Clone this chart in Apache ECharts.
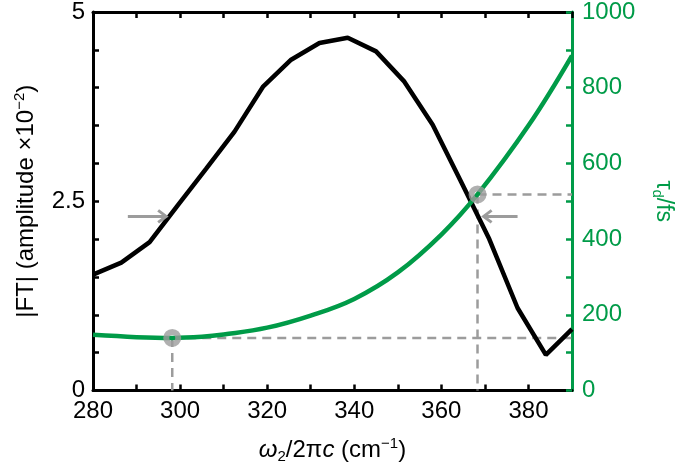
<!DOCTYPE html>
<html>
<head>
<meta charset="utf-8">
<script src="https://cdn.jsdelivr.net/npm/echarts@6/dist/echarts.min.js"></script>
<style>html,body{margin:0;padding:0;background:#fff}#c{width:685px;height:469px}</style>
</head>
<body>
<div id="c"></div>
<script>
// |FT| amplitude (left axis, x10^-2)
var ftX = [280, 286.5, 293, 299.5, 306, 312.5, 319, 325.5, 332, 338.5, 345, 351.5, 358, 364.5, 371, 377.5, 384, 390];
var ftY = [1.53, 1.69, 1.96, 2.45, 2.93, 3.42, 4.01, 4.37, 4.59, 4.66, 4.48, 4.08, 3.51, 2.76, 2.00, 1.09, 0.47, 0.81];
// tau_d (right axis, fs)
var tauX = [280, 290, 298.2, 305, 310, 320, 330, 340, 350, 360, 368.3, 380, 390];
var tauY = [147, 141, 139, 142, 148, 166, 198, 242, 312, 412, 518, 700, 885];
// marked points (right axis)
var markX = [298.2, 368.3];
var markY = [139, 518];
// half-maximum arrows: [tail, tip, y]
var arrows = [[288.0, 296.8, 2.30], [377.5, 369.7, 2.30]];

var GREEN = '#009B48';
var GREY = '#9c9c9c';
var FONT = 'Liberation Sans, Arial, Helvetica, sans-serif';

var ftData = ftX.map(function (x, i) { return [x, ftY[i]]; });
var tauData = tauX.map(function (x, i) { return [x, tauY[i]]; });
var markData = markX.map(function (x, i) { return [x, markY[i]]; });

function dashSeries(pts) {
  return {
    type: 'line', xAxisIndex: 0, yAxisIndex: 1, data: pts, symbol: 'none', silent: true,
    lineStyle: { color: GREY, width: 2.5, type: [9, 6] }, z: 3, animation: false
  };
}
var dashes = [];
markData.forEach(function (p) {
  dashes.push(dashSeries([[p[0], p[1]], [390, p[1]]]));
  dashes.push(dashSeries([[p[0], p[1]], [p[0], 0]]));
});

var chart = echarts.init(document.getElementById('c'), null, { renderer: 'canvas' });
chart.setOption({
  animation: false,
  backgroundColor: '#fff',
  textStyle: { fontFamily: FONT },
  grid: { left: 93, right: 113, top: 10, bottom: 77, containLabel: false },
  xAxis: [{
    type: 'value', position: 'bottom', min: 280, max: 390, interval: 10,
    axisLine: { show: true, onZero: false, lineStyle: { color: '#000', width: 3 } },
    axisTick: { show: true, inside: true, length: 6, lineStyle: { color: '#000', width: 2.5 } },
    splitLine: { show: false },
    axisLabel: {
      color: '#000', fontSize: 24, fontFamily: FONT, margin: 9,
      showMaxLabel: false,
      formatter: function (v) { return (Math.round(v) % 20 === 0) ? String(Math.round(v)) : ''; }
    },
    name: '{i|ω}{sub|2}/2π{i|c} (cm{sup|−1})',
    nameLocation: 'middle', nameGap: 46,
    nameTextStyle: {
      color: '#000', fontSize: 24, fontFamily: FONT,
      rich: {
        i: { fontStyle: 'italic', fontSize: 24, fontFamily: FONT, color: '#000' },
        sub: { fontSize: 15, fontFamily: FONT, color: '#000', padding: [12, 0, 0, 0] },
        sup: { fontSize: 15, fontFamily: FONT, color: '#000', padding: [0, 0, 13, 0] }
      }
    }
  }, {
    type: 'value', position: 'top', min: 280, max: 390, interval: 10,
    axisLine: { show: true, onZero: false, lineStyle: { color: '#000', width: 3 } },
    axisTick: { show: true, inside: true, length: 6, lineStyle: { color: '#000', width: 2.5 } },
    axisLabel: { show: false }, splitLine: { show: false }
  }],
  yAxis: [{
    type: 'value', position: 'left', min: 0, max: 5, interval: 0.5,
    axisLine: { show: true, onZero: false, lineStyle: { color: '#000', width: 3 } },
    axisTick: { show: true, inside: true, length: 6, lineStyle: { color: '#000', width: 2.5 } },
    splitLine: { show: false },
    axisLabel: {
      color: '#000', fontSize: 24, fontFamily: FONT, margin: 8,
      formatter: function (v) {
        var k = v / 2.5;
        return Math.abs(k - Math.round(k)) < 1e-6 ? String(v) : '';
      }
    },
    name: '|FT| (amplitude ×10{sup|−2})',
    nameLocation: 'middle', nameGap: 53, nameRotate: 90,
    nameTextStyle: {
      color: '#000', fontSize: 24, fontFamily: FONT,
      rich: { sup: { fontSize: 15, fontFamily: FONT, color: '#000', padding: [0, 0, 13, 0] } }
    }
  }, {
    type: 'value', position: 'right', min: 0, max: 1000, interval: 100,
    axisLine: { show: true, onZero: false, lineStyle: { color: GREEN, width: 3 } },
    axisTick: { show: true, inside: true, length: 6, lineStyle: { color: GREEN, width: 2.5 } },
    splitLine: { show: false },
    axisLabel: {
      color: GREEN, fontSize: 24, fontFamily: FONT, margin: 10,
      formatter: function (v) { return (Math.round(v) % 200 === 0) ? String(Math.round(v)) : ''; }
    },
    name: 'τ{sub|d}/fs',
    nameLocation: 'middle', nameGap: 78, nameRotate: -90,
    nameTextStyle: {
      color: GREEN, fontSize: 23, fontFamily: FONT,
      rich: { sub: { fontSize: 15, fontFamily: FONT, color: GREEN, padding: [12, 0, 0, 0] } }
    }
  }],
  series: dashes.concat([
    {
      type: 'line', name: 'FT', xAxisIndex: 0, yAxisIndex: 0, data: ftData,
      symbol: 'none', smooth: false, lineStyle: { color: '#000', width: 4.5 }, z: 4
    },
    {
      type: 'line', name: 'tau', xAxisIndex: 0, yAxisIndex: 1, data: tauData,
      symbol: 'none', smooth: 0.4, lineStyle: { color: GREEN, width: 4.5 }, z: 4
    },
    {
      type: 'scatter', xAxisIndex: 0, yAxisIndex: 1, data: markData,
      symbol: 'circle', symbolSize: 12,
      itemStyle: { color: 'rgba(0,0,0,0)', borderColor: GREY, borderWidth: 6 }, z: 6
    },
    {
      type: 'custom', xAxisIndex: 0, yAxisIndex: 0, data: arrows,
      encode: { x: [0, 1], y: 2 }, z: 5,
      renderItem: function (params, api) {
        var p1 = api.coord([api.value(0), api.value(2)]);
        var p2 = api.coord([api.value(1), api.value(2)]);
        var dir = p2[0] > p1[0] ? 1 : -1;
        var hl = 8, hw = 6;
        return {
          type: 'group',
          children: [
            { type: 'line', shape: { x1: p1[0], y1: p1[1], x2: p2[0] - dir * 1, y2: p2[1] },
              style: { stroke: GREY, lineWidth: 3 } },
            { type: 'polyline', shape: { points: [[p2[0] - dir * hl, p2[1] - hw], [p2[0], p2[1]], [p2[0] - dir * hl, p2[1] + hw]] },
              style: { stroke: GREY, lineWidth: 3, fill: null } }
          ]
        };
      }
    }
  ])
});
</script>
</body>
</html>
